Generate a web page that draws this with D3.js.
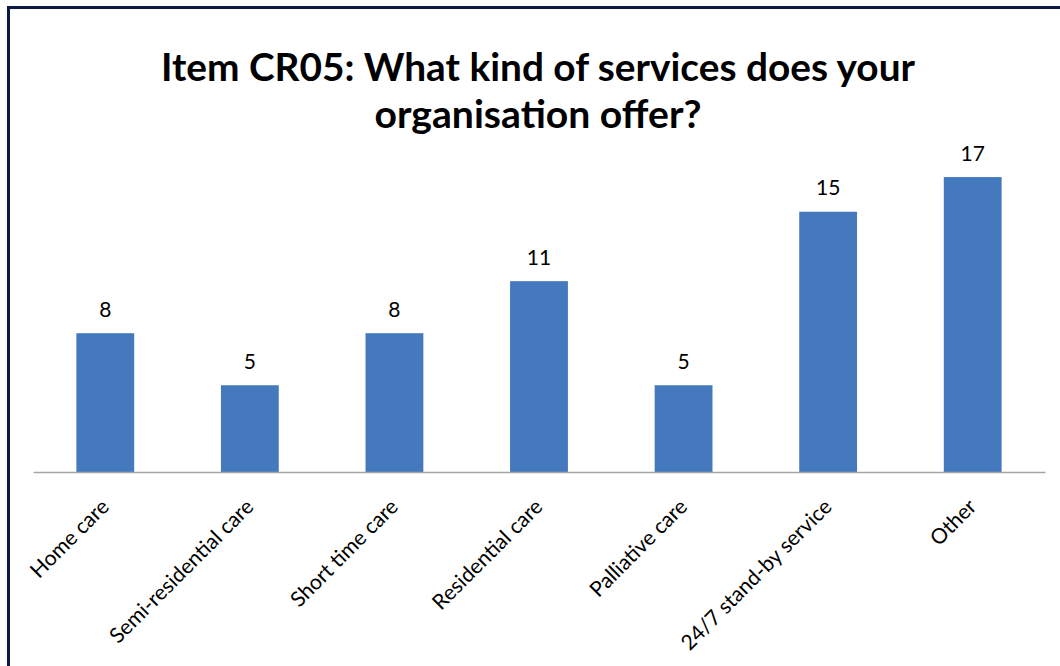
<!DOCTYPE html>
<html>
<head>
<meta charset="utf-8">
<script src="https://cdn.jsdelivr.net/npm/d3@7/dist/d3.min.js"></script>
<style>
  html, body { margin: 0; padding: 0; background: #ffffff; }
  svg { display: block; }
</style>
</head>
<body>
<svg id="chart" width="1060" height="666"></svg>
<script>
// Survey responses per service type
const categories = [
  "Home care",
  "Semi-residential care",
  "Short time care",
  "Residential care",
  "Palliative care",
  "24/7 stand-by service",
  "Other"
];
const counts = [8, 5, 8, 11, 5, 15, 17];
const titleLines = [
  "Item CR05: What kind of services does your",
  "organisation offer?"
];

const W = 1060, H = 666;
const svg = d3.select("#chart");

// Outer frame (runs off the right and bottom edges)
svg.append("rect")
  .attr("x", 8.5).attr("y", 7.5)
  .attr("width", W + 20).attr("height", H + 20)
  .attr("fill", "#ffffff")
  .attr("stroke", "#0b1a45")
  .attr("stroke-width", 3);

// Title
const titleFont = "Lato, 'Open Sans', sans-serif";
const titleWidths = [754, 327];
const titleBaselines = [80.5, 128];
titleLines.forEach((line, i) => {
  svg.append("text")
    .attr("x", 538)
    .attr("y", titleBaselines[i])
    .attr("text-anchor", "middle")
    .attr("font-family", titleFont)
    .attr("font-weight", "bold")
    .attr("font-size", 39)
    .attr("fill", "#000000")
    .attr("textLength", titleWidths[i])
    .attr("lengthAdjust", "spacingAndGlyphs")
    .text(line);
});

// Plot area
const plot = { left: 33, right: 1045, baseline: 472 };
const x = d3.scaleBand()
  .domain(categories)
  .range([plot.left, plot.right])
  .paddingInner(0.6)
  .paddingOuter(0.3);

const pxPerUnit = 17.35;
const y = d3.scaleLinear()
  .domain([0, 20])
  .range([plot.baseline, plot.baseline - 20 * pxPerUnit]);

const data = categories.map((c, i) => ({ cat: c, value: counts[i] }));

// Bars
svg.append("g")
  .selectAll("rect")
  .data(data)
  .join("rect")
  .attr("x", d => x(d.cat))
  .attr("y", d => y(d.value))
  .attr("width", x.bandwidth())
  .attr("height", d => y(0) - y(d.value))
  .attr("fill", "#4479bd");

// Category axis line
const axis = svg.append("g")
  .attr("transform", `translate(0,${plot.baseline})`)
  .call(d3.axisBottom(x).tickSize(0).tickFormat(""));
axis.select(".domain")
  .attr("stroke", "#a6a6a6")
  .attr("stroke-width", 1.5);

// Value labels above the bars
svg.append("g")
  .selectAll("text")
  .data(data)
  .join("text")
  .attr("x", d => x(d.cat) + x.bandwidth() / 2)
  .attr("y", d => y(d.value) - 16.5)
  .attr("text-anchor", "middle")
  .attr("font-family", titleFont)
  .attr("font-size", 21)
  .attr("fill", "#000000")
  .text(d => d.value);

// Rotated category labels, sized so the longest one spans ~203px
const labelFont = "Lato, 'Open Sans', sans-serif";
const probe = svg.append("text")
  .attr("font-family", labelFont)
  .attr("font-size", 20)
  .text("24/7 stand-by service");
const probeLen = probe.node().getComputedTextLength();
probe.remove();
const labelSize = 20 * 203 / probeLen;

svg.append("g")
  .selectAll("text")
  .data(data)
  .join("text")
  .attr("transform", d => {
    const cx = x(d.cat) + x.bandwidth() / 2;
    return `translate(${cx + 5},${plot.baseline + 36}) rotate(-45)`;
  })
  .attr("text-anchor", "end")
  .attr("font-family", labelFont)
  .attr("font-size", labelSize)
  .attr("fill", "#000000")
  .text(d => d.cat);
</script>
</body>
</html>
